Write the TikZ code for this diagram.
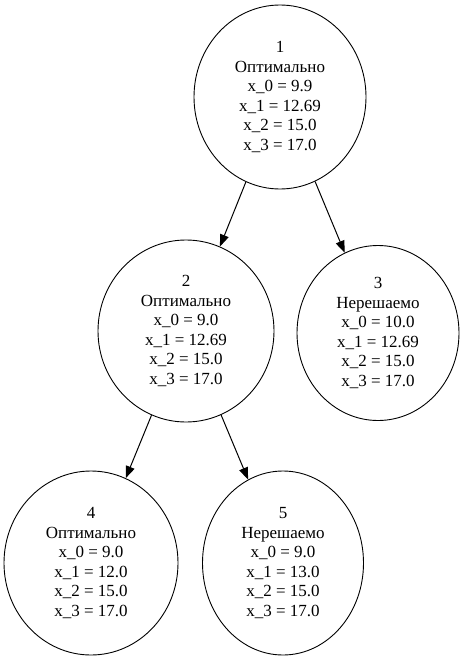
\documentclass[tikz,border=0pt]{standalone}
\usepackage{fontspec}
\setmainfont{Liberation Serif}
\usetikzlibrary{shapes.geometric,arrows.meta}
\tikzset{
  bnode/.style={draw=black, line width=0.9pt, ellipse, inner sep=0pt, align=center,
    font=\fontsize{17}{19.6}\selectfont},
  arr/.style={draw=black, line width=1pt, -{Triangle[length=12pt,width=9pt]}}
}
\begin{document}
\begin{tikzpicture}[x=1pt,y=-1pt]
\useasboundingbox (0,0) rectangle (463,661);
\node[bnode, minimum width=172pt, minimum height=184pt] (n1) at (280,97)
  {1\\Оптимально\\x\_0 = 9.9\\x\_1 = 12.69\\x\_2 = 15.0\\x\_3 = 17.0};
\node[bnode, minimum width=176pt, minimum height=182pt] (n2) at (186,331)
  {2\\Оптимально\\x\_0 = 9.0\\x\_1 = 12.69\\x\_2 = 15.0\\x\_3 = 17.0};
\node[bnode, minimum width=162pt, minimum height=175pt] (n3) at (378,333)
  {3\\Нерешаемо\\x\_0 = 10.0\\x\_1 = 12.69\\x\_2 = 15.0\\x\_3 = 17.0};
\node[bnode, minimum width=174pt, minimum height=184pt] (n4) at (91,563)
  {4\\Оптимально\\x\_0 = 9.0\\x\_1 = 12.0\\x\_2 = 15.0\\x\_3 = 17.0};
\node[bnode, minimum width=161pt, minimum height=184pt] (n5) at (283,563)
  {5\\Нерешаемо\\x\_0 = 9.0\\x\_1 = 13.0\\x\_2 = 15.0\\x\_3 = 17.0};
\draw[arr] (n1) -- (n2);
\draw[arr] (n1) -- (n3);
\draw[arr] (n2) -- (n4);
\draw[arr] (n2) -- (n5);
\end{tikzpicture}
\end{document}
